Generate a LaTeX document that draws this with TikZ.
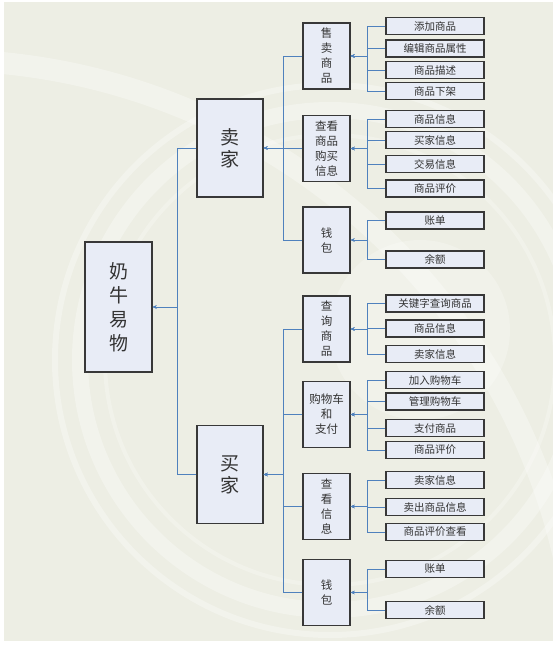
\documentclass[tikz,border=0pt]{standalone}
\usepackage{fontspec}
\setmainfont{Noto Sans CJK SC}
\usetikzlibrary{arrows.meta}
\definecolor{linkblue}{RGB}{79,129,189}
\definecolor{boxfill}{RGB}{232,236,246}
\definecolor{paper}{RGB}{237,238,228}
\tikzset{
  box/.style={draw=black!78, line width=1.3pt, fill=boxfill, text=black!80, inner sep=0pt, align=center},
  rootbox/.style={box, minimum width=67pt, minimum height=130pt, font=\fontsize{19}{24}\selectfont},
  rolebox/.style={box, minimum width=66pt, minimum height=98pt, font=\fontsize{19}{22}\selectfont},
  groupbox/.style={box, minimum width=47pt, minimum height=66pt, font=\fontsize{11.5}{15}\selectfont},
  leafbox/.style={box, minimum width=98pt, minimum height=17pt, font=\fontsize{10.5}{12}\selectfont},
  link/.style={draw=linkblue, line width=0.9pt, -{Stealth[length=4pt,width=3.5pt]}},
}
\newcommand{\leafnode}[3]{\node[leafbox] (#1) at (435,#2) {#3};}
\newcommand{\branch}[3]{\draw[link] (#2.west) -| ([xshift=#3pt]#1.east) -- (#1.east);}

\begin{document}
\begin{tikzpicture}[x=1pt,y=-1pt]
\useasboundingbox (0,0) rectangle (556,647);
% background
\fill[white] (0,0) rectangle (556,647);
\fill[paper] (4,2) rectangle (553,641);
\begin{scope}
\clip (4,2) rectangle (553,641);
\draw[white, line width=16pt, opacity=0.3] (330,360) circle (250);
\draw[white, line width=6pt, opacity=0.3] (330,360) circle (275);
\draw[white, line width=4pt, opacity=0.25] (330,360) circle (225);
\draw[white, line width=22pt, opacity=0.3] (-60,700) circle (640);
\fill[white, opacity=0.25] (420,330) circle (90);
\end{scope}

% root and roles
\node[rootbox] (root) at (118.5,307) {奶\\牛\\易\\物};
\node[rolebox] (seller) at (230,148) {卖\\家};
\node[rolebox] (buyer) at (230,474.5) {买\\家};

% seller groups
\node[groupbox] (sell) at (326.5,56) {售\\卖\\商\\品};
\node[groupbox] (view) at (326.5,148.5) {查看\\商品\\购买\\信息};
\node[groupbox] (swallet) at (326.5,240) {钱\\包};

% buyer groups
\node[groupbox] (search) at (326.5,329) {查\\询\\商\\品};
\node[groupbox] (cart) at (326.5,414.5) {购物车\\和\\支付};
\node[groupbox] (info) at (326.5,506.5) {查\\看\\信\\息};
\node[groupbox] (bwallet) at (326.5,592.5) {钱\\包};

% leaves
\leafnode{s1}{26}{添加商品}
\leafnode{s2}{48.5}{编辑商品属性}
\leafnode{s3}{70}{商品描述}
\leafnode{s4}{91}{商品下架}
\leafnode{v1}{119}{商品信息}
\leafnode{v2}{140}{买家信息}
\leafnode{v3}{164}{交易信息}
\leafnode{v4}{188.5}{商品评价}
\leafnode{w1}{220.5}{账单}
\leafnode{w2}{259.5}{余额}
\leafnode{q1}{303.5}{关键字查询商品}
\leafnode{q2}{328.5}{商品信息}
\leafnode{q3}{354}{卖家信息}
\leafnode{c1}{380}{加入购物车}
\leafnode{c2}{401.5}{管理购物车}
\leafnode{c3}{428}{支付商品}
\leafnode{c4}{450}{商品评价}
\leafnode{i1}{480}{卖家信息}
\leafnode{i2}{507}{卖出商品信息}
\leafnode{i3}{532}{商品评价查看}
\leafnode{b1}{569}{账单}
\leafnode{b2}{610}{余额}

% connectors
\foreach \c in {seller,buyer} {\branch{root}{\c}{25}}
\foreach \c in {sell,view,swallet} {\branch{seller}{\c}{20}}
\foreach \c in {search,cart,info,bwallet} {\branch{buyer}{\c}{20}}
\foreach \c in {s1,s2,s3,s4} {\branch{sell}{\c}{17}}
\foreach \c in {v1,v2,v3,v4} {\branch{view}{\c}{17}}
\foreach \c in {w1,w2} {\branch{swallet}{\c}{17}}
\foreach \c in {q1,q2,q3} {\branch{search}{\c}{17}}
\foreach \c in {c1,c2,c3,c4} {\branch{cart}{\c}{17}}
\foreach \c in {i1,i2,i3} {\branch{info}{\c}{17}}
\foreach \c in {b1,b2} {\branch{bwallet}{\c}{17}}

\end{tikzpicture}
\end{document}
